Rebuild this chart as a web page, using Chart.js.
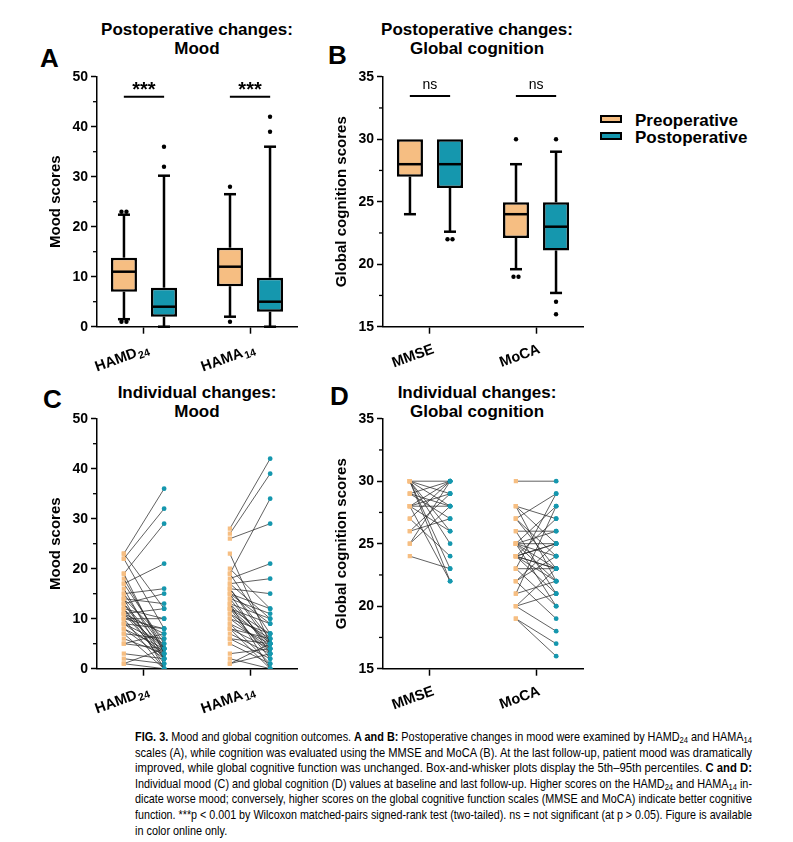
<!DOCTYPE html>
<html>
<head>
<meta charset="utf-8">
<script src="https://cdn.jsdelivr.net/npm/chart.js@4.4.1/dist/chart.umd.min.js"></script>
<style>
  body { margin: 0; width: 793px; height: 842px; background: #fff; position: relative; overflow: hidden;
         font-family: "Liberation Sans", Arial, Helvetica, sans-serif; color: #000; }
  canvas { position: absolute; }
  .letter { position: absolute; font-size: 26px; font-weight: bold; line-height: 1; }
  .title { position: absolute; width: 280px; margin-left: -140px; text-align: center; font-size: 17px; font-weight: bold; line-height: 19px; white-space: nowrap; }
  .legend { position: absolute; left: 600px; top: 112px; font-size: 17px; font-weight: bold; }
  .legend div { height: 17px; line-height: 17px; white-space: nowrap; }
  .legend span { display: inline-block; width: 18px; height: 4px; border: 2px solid #000; margin-right: 13px; vertical-align: 3px; }
  .caption { position: absolute; left: 135px; top: 729px; width: 617px; font-size: 13.5px; line-height: 15.6px; }
  .caption div { white-space: nowrap; height: 15.6px; }
  .caption span { display: inline-block; transform-origin: 0 50%; }
  .caption sub { font-size: 70%; line-height: 0; vertical-align: -2px; }
</style>
</head>
<body>

<div class="letter" style="left:40px;top:45px">A</div>
<div class="letter" style="left:328px;top:42px">B</div>
<div class="letter" style="left:43px;top:386px">C</div>
<div class="letter" style="left:330px;top:383px">D</div>

<div class="title" style="left:197px;top:20px">Postoperative changes:<br>Mood</div>
<div class="title" style="left:477px;top:20px">Postoperative changes:<br>Global cognition</div>
<div class="title" style="left:197px;top:383px">Individual changes:<br>Mood</div>
<div class="title" style="left:477px;top:383px">Individual changes:<br>Global cognition</div>

<div class="legend">
  <div><span style="background:#F6BE82"></span>Preoperative</div>
  <div><span style="background:#1597AE"></span>Postoperative</div>
</div>

<canvas id="chartA" width="290" height="320" style="left:20px;top:60px"></canvas>
<canvas id="chartB" width="290" height="320" style="left:306px;top:60px"></canvas>
<canvas id="chartC" width="290" height="320" style="left:20px;top:401.6px"></canvas>
<canvas id="chartD" width="290" height="320" style="left:306px;top:401.6px"></canvas>

<div class="caption" id="caption">
<div><span><b>FIG. 3.</b> Mood and global cognition outcomes. <b>A and B:</b> Postoperative changes in mood were examined by HAMD<sub>24</sub> and HAMA<sub>14</sub></span></div>
<div><span>scales (A), while cognition was evaluated using the MMSE and MoCA (B). At the last follow-up, patient mood was dramatically</span></div>
<div><span>improved, while global cognitive function was unchanged. Box-and-whisker plots display the 5th–95th percentiles. <b>C and D:</b></span></div>
<div><span>Individual mood (C) and global cognition (D) values at baseline and last follow-up. Higher scores on the HAMD<sub>24</sub> and HAMA<sub>14</sub> in-</span></div>
<div><span>dicate worse mood; conversely, higher scores on the global cognitive function scales (MMSE and MoCA) indicate better cognitive</span></div>
<div><span>function. ***p &lt; 0.001 by Wilcoxon matched-pairs signed-rank test (two-tailed). ns = not significant (at p &gt; 0.05). Figure is available</span></div>
<div class="last"><span>in color online only.</span></div>
</div>

<script>
const ORANGE = "#F6BE82";
const TEAL = "#1597AE";

// categories
const moodCats = ["HAMD\u2082\u2084", "HAMA\u2081\u2084"];
const cogCats = ["MMSE", "MoCA"];

// box stats per category: [p5, q1, median, q3, p95]
const moodPreBox = [[1.5, 7, 11, 13.8, 22.4], [2, 8.1, 12, 15.8, 26.5]];
const moodPostBox = [[0, 2, 4, 7.8, 30.2], [0, 3, 5, 9.8, 36]];
const moodPreOut = [[1, 1, 23, 23], [1, 28]];
const moodPostOut = [[32, 36], [39, 42]];

const cogPreBox = [[24, 27, 28, 30, 30], [19.6, 22.1, 24, 24.95, 28]];
const cogPostBox = [[22.6, 26.1, 28, 30, 30], [17.7, 21.1, 23, 24.95, 29]];
const cogPreOut = [[], [19, 19, 30]];
const cogPostOut = [[22, 22], [16, 17, 30]];

const moodSig = ["***", "***"];
const cogSig = ["ns", "ns"];

// individual values, paired by index (baseline, last follow-up)
const hamdPre  = [23,23,22,22,19,19,18,17,17,16,15,15,14,14,14,13,13,13,12,12,12,11,11,11,11,10,10,10,9,9,9,8,8,7,7,6,5,5,3,2,1,1];
const hamdPost = [36,12,32,8,29,3,4,21,5,2,16,4,13,6,0,15,4,2,10,3,1,12,7,4,2,10,8,0,8,5,3,4,2,6,0,3,7,4,2,1,4,0];
const hamaPre  = [28,27,26,23,20,19,19,18,17,17,16,16,16,15,15,15,14,14,13,13,13,12,12,12,12,11,11,10,10,9,9,8,8,8,7,6,6,5,3,2,1,1];
const hamaPost = [42,39,29,5,12,34,7,21,18,10,15,6,5,12,9,3,11,4,10,5,0,9,7,5,2,6,3,7,4,5,1,6,4,0,3,5,2,1,4,0,3,5];
const mmsePre  = [30,30,30,30,30,30,30,29,29,29,28,28,28,28,28,27,27,26,26,25,25,24];
const mmsePost = [22,23,30,28,29,26,25,30,27,28,30,29,22,26,28,30,24,29,27,28,30,23];
const mocaPre  = [30,28,28,28,27,27,27,26,26,25,25,25,25,25,25,25,24,24,24,24,24,24,24,23,23,23,22,22,22,21,21,20,20,20,19,19];
const mocaPost = [30,25,22,27,29,23,24,21,26,28,22,23,25,20,24,26,23,25,22,27,21,23,25,29,20,23,24,25,19,28,22,23,18,21,17,16];

const X_MIN = 0.557, X_MAX = 2.443, SHIFT = 0.19;
const FONT = "'Liberation Sans', Arial, sans-serif";

Chart.defaults.font.family = FONT;
Chart.defaults.color = "#000";

function yAxis(min, max, step, title) {
    return {
        min: min, max: max,
        ticks: {stepSize: step, font: {size: 14, weight: "bold"}, padding: 3},
        grid: {drawOnChartArea: false, drawTicks: true, tickLength: 6, tickWidth: 1.5, tickColor: "#000"},
        border: {display: true, color: "#000", width: 1.5},
        title: {display: true, text: title, font: {size: 15, weight: "bold"}, padding: {top: 2, bottom: 0}},
        afterFit: function(s) { s.width = 52; }
    };
}

function xAxis(cats) {
    return {
        type: "linear", min: X_MIN, max: X_MAX, offset: false,
        afterBuildTicks: function(s) { s.ticks = cats.map((c, i) => ({value: i + 1})); },
        // labels are drawn by the subLabels plugin so the subscripts come out right
        ticks: {display: false, autoSkip: false},
        grid: {drawOnChartArea: false, drawTicks: true, tickLength: 7, tickWidth: 1.5, tickColor: "#000", offset: false},
        border: {display: true, color: "#000", width: 1.5},
        afterFit: function(s) { s.height = 53.3; }
    };
}

// rotated category labels with real subscripts
const subLabels = {
    id: "subLabels",
    afterDraw(chart, args, opts) {
        let ctx = chart.ctx;
        let xs = chart.scales.x;
        let base = chart.chartArea.bottom + 15;
        ctx.save();
        ctx.fillStyle = "#000";
        ctx.textBaseline = "top";
        opts.cats.forEach((lab, i) => {
            let main = lab.replace(/[\u2080-\u2089]/g, "");
            let sub = lab.replace(/[^\u2080-\u2089]/g, "").split("").map(c => c.charCodeAt(0) - 0x2080).join("");
            ctx.font = "bold 14.5px " + FONT;
            let wMain = ctx.measureText(main).width;
            ctx.font = "bold 10.5px " + FONT;
            let wSub = ctx.measureText(sub).width;
            ctx.save();
            ctx.translate(xs.getPixelForValue(i + 1) + 2, base);
            ctx.rotate(-20 * Math.PI / 180);
            ctx.font = "bold 14.5px " + FONT;
            ctx.fillText(main, -(wMain + wSub + 1), 0);
            if (sub) {
                ctx.font = "bold 10.5px " + FONT;
                ctx.fillText(sub, -wSub, 6);
            }
            ctx.restore();
        });
        ctx.restore();
    }
};

// short ticks between the labelled ones
const minorTicks = {
    id: "minorTicks",
    afterDraw(chart, args, opts) {
        let y = chart.scales.y;
        let ctx = chart.ctx;
        let left = chart.chartArea.left;
        ctx.save();
        ctx.strokeStyle = "#000";
        ctx.lineWidth = 1.3;
        for (let v = y.min + opts.step; v < y.max; v += opts.step * 2) {
            let py = y.getPixelForValue(v);
            ctx.beginPath();
            ctx.moveTo(left - 4, py);
            ctx.lineTo(left, py);
            ctx.stroke();
        }
        ctx.restore();
    }
};

// whiskers, medians and outliers on top of the floating bars
const boxParts = {
    id: "boxParts",
    afterDatasetsDraw(chart) {
        let ctx = chart.ctx;
        let ys = chart.scales.y;
        ctx.save();
        ctx.strokeStyle = "#000";
        ctx.fillStyle = "#000";
        ctx.lineWidth = 2.5;
        chart.data.datasets.forEach((ds, i) => {
            chart.getDatasetMeta(i).data.forEach((bar, j) => {
                let [lo, q1, med, q3, hi] = ds.box[j];
                let x = bar.x, w = bar.width;
                let line = (x1, y1, x2, y2) => {
                    ctx.beginPath(); ctx.moveTo(x1, y1); ctx.lineTo(x2, y2); ctx.stroke();
                };
                line(x - w / 2 + 1, ys.getPixelForValue(med), x + w / 2 - 1, ys.getPixelForValue(med));
                if (hi > q3) {
                    line(x, ys.getPixelForValue(q3), x, ys.getPixelForValue(hi));
                    line(x - 6, ys.getPixelForValue(hi), x + 6, ys.getPixelForValue(hi));
                }
                if (lo < q1) {
                    line(x, ys.getPixelForValue(q1), x, ys.getPixelForValue(lo));
                    line(x - 6, ys.getPixelForValue(lo), x + 6, ys.getPixelForValue(lo));
                }
                let counts = {};
                ds.outliers[j].forEach(v => { counts[v] = (counts[v] || 0) + 1; });
                Object.keys(counts).forEach(k => {
                    let n = counts[k];
                    for (let m = 0; m < n; m++) {
                        let dx = (m - (n - 1) / 2) * 5;
                        ctx.beginPath();
                        ctx.arc(x + dx, ys.getPixelForValue(+k), 2.2, 0, Math.PI * 2);
                        ctx.fill();
                    }
                });
            });
        });
        ctx.restore();
    }
};

// significance marks above each pair
const sigMarks = {
    id: "sigMarks",
    afterDraw(chart, args, opts) {
        let ctx = chart.ctx;
        let xs = chart.scales.x, ys = chart.scales.y;
        ctx.save();
        ctx.strokeStyle = "#000";
        ctx.fillStyle = "#000";
        ctx.lineWidth = 2;
        ctx.textAlign = "center";
        ctx.textBaseline = "middle";
        ctx.font = opts.font;
        opts.labels.forEach((lab, i) => {
            let py = ys.getPixelForValue(opts.lineAt);
            ctx.beginPath();
            ctx.moveTo(xs.getPixelForValue(i + 1 - SHIFT), py);
            ctx.lineTo(xs.getPixelForValue(i + 1 + SHIFT), py);
            ctx.stroke();
            ctx.fillText(lab, xs.getPixelForValue(i + 1), ys.getPixelForValue(opts.textAt));
        });
        ctx.restore();
    }
};

const layoutPad = {left: 25, top: 16.7, right: 13, bottom: 0};

function boxChart(id, cats, preBox, postBox, preOut, postOut, yr, title, sig) {
    let mk = (box, out, color, label) => ({
        label: label,
        data: box.map((b, i) => ({x: i + 1, y: [b[1], b[3]]})),
        backgroundColor: color, borderColor: "#000", borderWidth: 2.5, borderSkipped: false,
        box: box, outliers: out
    });
    return new Chart(document.getElementById(id), {
        type: "bar",
        data: {datasets: [mk(preBox, preOut, ORANGE, "Preoperative"), mk(postBox, postOut, TEAL, "Postoperative")]},
        options: {
            responsive: false, animation: false,
            layout: {padding: layoutPad},
            categoryPercentage: 0.755, barPercentage: 0.65,
            scales: {x: xAxis(cats), y: yAxis(yr[0], yr[1], yr[2], title)},
            plugins: {legend: {display: false}, tooltip: {enabled: false},
                      minorTicks: {step: yr[2] / 2}, sigMarks: sig, subLabels: {cats: cats}}
        },
        plugins: [boxParts, minorTicks, sigMarks, subLabels]
    });
}

function pairedSets(pre, post, cat) {
    return pre.map((v, i) => ({
        data: [{x: cat - SHIFT, y: v}, {x: cat + SHIFT, y: post[i]}],
        showLine: true,
        borderColor: "rgba(35,35,35,0.8)", borderWidth: 0.9,
        pointStyle: ["rect", "circle"], pointRadius: [3, 2.4],
        pointBackgroundColor: [ORANGE, TEAL], pointBorderWidth: 0
    }));
}

function pairChart(id, cats, sets, yr, title) {
    return new Chart(document.getElementById(id), {
        type: "scatter",
        data: {datasets: sets},
        options: {
            responsive: false, animation: false,
            layout: {padding: layoutPad},
            scales: {x: xAxis(cats), y: yAxis(yr[0], yr[1], yr[2], title)},
            plugins: {legend: {display: false}, tooltip: {enabled: false},
                      minorTicks: {step: yr[2] / 2}, subLabels: {cats: cats}}
        },
        plugins: [minorTicks, subLabels]
    });
}

boxChart("chartA", moodCats, moodPreBox, moodPostBox, moodPreOut, moodPostOut, [0, 50, 10], "Mood scores",
         {labels: moodSig, lineAt: 46, textAt: 47.2, font: "bold 20px " + FONT});
boxChart("chartB", cogCats, cogPreBox, cogPostBox, cogPreOut, cogPostOut, [15, 35, 5], "Global cognition scores",
         {labels: cogSig, lineAt: 33.45, textAt: 34.3, font: "14px " + FONT});
pairChart("chartC", moodCats, pairedSets(hamdPre, hamdPost, 1).concat(pairedSets(hamaPre, hamaPost, 2)),
          [0, 50, 10], "Mood scores");
pairChart("chartD", cogCats, pairedSets(mmsePre, mmsePost, 1).concat(pairedSets(mocaPre, mocaPost, 2)),
          [15, 35, 5], "Global cognition scores");

// squeeze each caption line to the column width (narrow type like the source)
let firstScale = 1;
document.querySelectorAll("#caption div").forEach((div, n) => {
    let span = div.querySelector("span");
    let k = 617 / span.getBoundingClientRect().width;
    if (n === 0) firstScale = k;
    if (div.classList.contains("last")) k = firstScale;
    span.style.transform = "scaleX(" + k + ")";
});
</script>
</body>
</html>
